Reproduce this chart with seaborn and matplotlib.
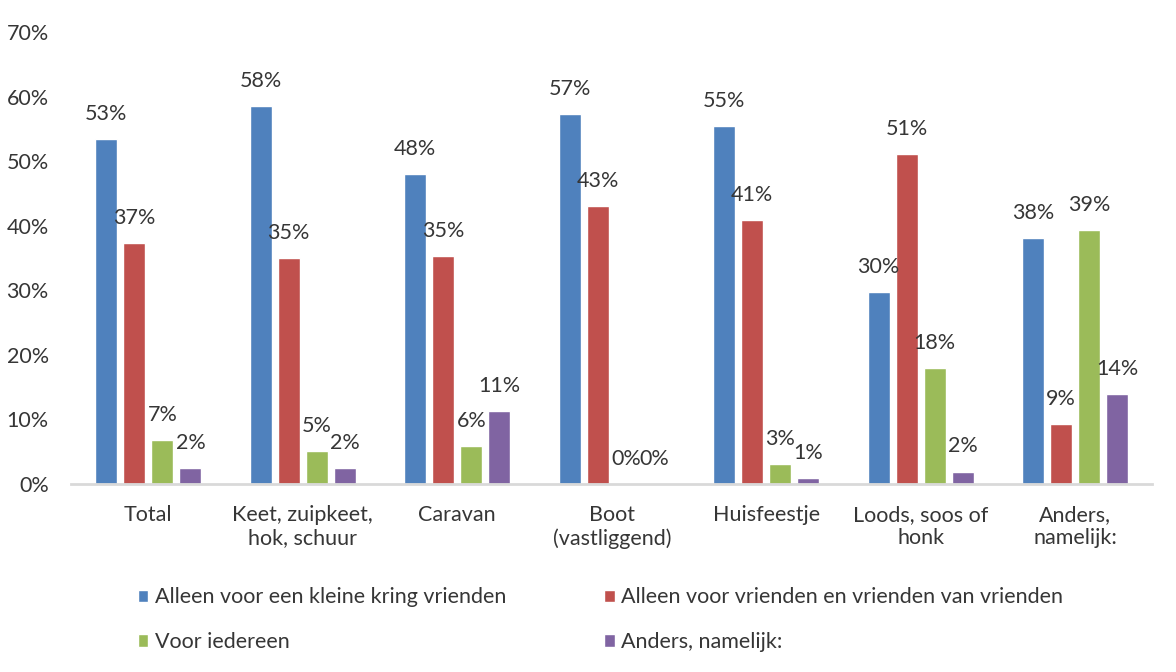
import matplotlib
matplotlib.use("Agg")
import matplotlib.pyplot as plt
import seaborn as sns
import pandas as pd

# values (percent)
categories = ["Total", "Keet, zuipkeet,\nhok, schuur", "Caravan", "Boot\n(vastliggend)",
              "Huisfeestje", "Loods, soos of\nhonk", "Anders,\nnamelijk:"]
series = ["Alleen voor een kleine kring vrienden",
          "Alleen voor vrienden en vrienden van vrienden",
          "Voor iedereen",
          "Anders, namelijk:"]
kleine_kring = [53.4, 58.5, 48.0, 57.3, 55.4, 29.7, 38.1]
vrienden_van_vrienden = [37.3, 35.0, 35.3, 43.0, 40.9, 51.1, 9.3]
iedereen = [6.8, 5.1, 5.9, 0.0, 3.1, 18.0, 39.3]
anders = [2.5, 2.5, 11.3, 0.0, 0.9, 1.9, 13.9]
colors = ["#4F81BD", "#C0504D", "#9BBB59", "#8064A2"]

rows = []
for s, vals in zip(series, [kleine_kring, vrienden_van_vrienden, iedereen, anders]):
    for c, v in zip(categories, vals):
        rows.append({"cat": c, "serie": s, "val": v})
df = pd.DataFrame(rows)

sns.set_theme(style="white")
plt.rcParams["font.family"] = ["Lato", "DejaVu Sans"]
txt = "#363636"
fs = 15.5

fig = plt.figure(figsize=(11.76, 6.72), dpi=100)
ax = fig.add_axes([0.0604, 0.2798, 0.9196, 0.6722])

sns.barplot(data=df, x="cat", y="val", hue="serie", palette=colors,
            order=categories, hue_order=series, width=0.727, gap=0.21,
            saturation=1, ax=ax, legend=True)

for cont in ax.containers:
    labels = [f"{round(b.get_height()):.0f}%" for b in cont]
    ax.bar_label(cont, labels=labels, padding=11, fontsize=fs, color=txt)

ax.set_xlim(-0.5, 6.5)
ax.set_ylim(0, 70)
ax.set_yticks(range(0, 71, 10))
ax.set_yticklabels([f"{t}%" for t in range(0, 71, 10)], fontsize=fs, color=txt)
ax.set_xticks(range(len(categories)))
ax.set_xticklabels(categories, fontsize=fs, color=txt, linespacing=1.2)
ax.tick_params(axis="x", length=0, pad=15)
ax.tick_params(axis="y", length=0, pad=16)
ax.set_xlabel("")
ax.set_ylabel("")
for side in ["left", "right", "top"]:
    ax.spines[side].set_visible(False)
ax.spines["bottom"].set_color("#D9D9D9")
ax.spines["bottom"].set_linewidth(2)

# legend filled row by row, as in the original
handles, labs = ax.get_legend_handles_labels()
ax.get_legend().remove()
order = [0, 2, 1, 3]
fig.legend([handles[i] for i in order], [labs[i] for i in order],
           loc="upper left", bbox_to_anchor=(0.117, 0.126),
           ncol=2, frameon=False, fontsize=fs, handlelength=0.5, handleheight=0.5,
           handletextpad=0.3, columnspacing=4.55, labelspacing=1.15, labelcolor=txt,
           borderaxespad=0, borderpad=0)

fig.savefig("out.png", dpi=100)
